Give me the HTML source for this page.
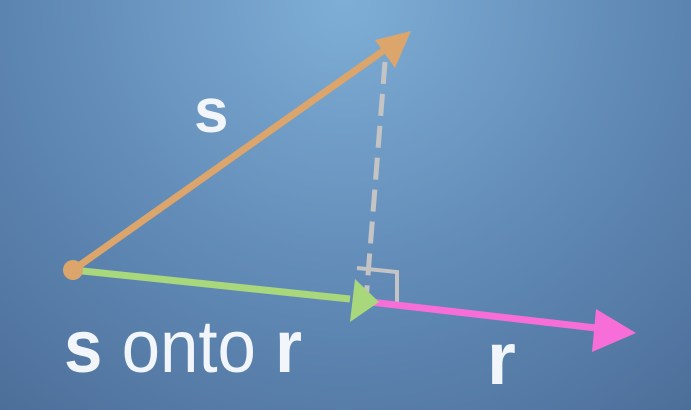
<!DOCTYPE html>
<html>
<head>
<meta charset="utf-8">
<style>
  html, body { margin: 0; padding: 0; }
  body { width: 691px; height: 410px; overflow: hidden; font-family: "Liberation Sans", sans-serif; }
  svg { display: block; }
</style>
</head>
<body>
<svg width="691" height="410" viewBox="0 0 691 410">
  <defs>
    <radialGradient id="bg" cx="345" cy="0" r="560" gradientUnits="userSpaceOnUse">
      <stop offset="0" stop-color="#7eaed6"/>
      <stop offset="0.55" stop-color="#5f88b4"/>
      <stop offset="1" stop-color="#4a6c96"/>
    </radialGradient>
  </defs>
  <rect x="0" y="0" width="691" height="410" fill="url(#bg)"/>

  <line x1="385" y1="62" x2="366" y2="300" stroke="#c4c4c4" stroke-width="5" stroke-dasharray="22,10"/>
  <polyline points="357,268 397,272 397,302" fill="none" stroke="#c4c4c4" stroke-width="4"/>

  <g>
    <line x1="73" y1="270" x2="390" y2="46" stroke="#dba56b" stroke-width="7"/>
    <polygon points="411,31 375,40 395,68" fill="#dba56b"/>
  </g>

  <g>
    <line x1="370" y1="302" x2="605" y2="329" stroke="#f76ed8" stroke-width="7"/>
    <polygon points="636,333 596,309 592,352" fill="#f76ed8"/>
  </g>

  <g>
    <line x1="73" y1="270" x2="350" y2="299" stroke="#a9d77c" stroke-width="7"/>
    <polygon points="379,302 355,279 350,322" fill="#a9d77c"/>
  </g>

  <circle cx="73" cy="270" r="10" fill="#dba56b"/>

  <text x="194" y="132" font-size="62" font-weight="bold" fill="#f2f5f9">s</text>
  <text x="64" y="372" font-size="74" fill="#f2f5f9" textLength="238" lengthAdjust="spacingAndGlyphs"><tspan font-weight="bold">s</tspan> onto <tspan font-weight="bold">r</tspan></text>
  <text x="487" y="384" font-size="74" font-weight="bold" fill="#f2f5f9">r</text>
</svg>
</body>
</html>
